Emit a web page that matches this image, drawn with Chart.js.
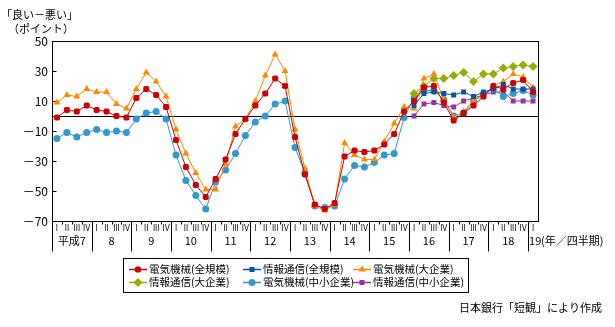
<!DOCTYPE html>
<html>
<head>
<meta charset="utf-8">
<script src="https://cdn.jsdelivr.net/npm/chart.js@4/dist/chart.umd.min.js"></script>
<style>
  html, body { margin: 0; padding: 0; background: #fff; }
  canvas { display: block; }
</style>
</head>
<body>
<canvas id="tankan" width="615" height="327"></canvas>
<script>
// 業況判断DI（電気機械・情報通信） 平成7年I期〜19年I期

// x軸: 年と四半期
const years = ['平成7', '8', '9', '10', '11', '12', '13', '14', '15', '16', '17', '18', '19'];
const quartersPerYear = [4, 4, 4, 4, 4, 4, 4, 4, 4, 4, 4, 4, 1];
const quarterNames = ['I', 'II', 'III', 'IV'];

// y軸目盛
const yTicks = [50, 30, 10, -10, -30, -50, -70];

// 電気機械（平成7年I期〜）
const denkiAll = [-1, 4, 3, 7, 4, 3, 0, -1, 12, 18, 14, 6, -16, -34, -46, -54, -42, -29, -12, -2,
  7, 15, 25, 20, -14, -39, -59, -62, -58, -27, -23, -24, -23, -19, -12, 3, 10, 19, 20, 9,
  -3, 2, 7, 13, 20, 18, 22, 24, 16];
const denkiLarge = [9, 14, 13, 18, 16, 16, 8, 5, 18, 29, 23, 13, -9, -25, -38, -49, -49, -32, -7, -2,
  10, 27, 41, 30, -9, -35, -60, -63, -59, -18, -26, -29, -29, -17, -5, 6, 5, 25, 28, 11,
  -1, 3, 10, 14, 20, 23, 28, 26, 19];
const denkiSmall = [-15, -11, -14, -11, -9, -11, -10, -11, -2, 2, 3, -2, -26, -43, -53, -62, -44, -36, -25, -13,
  -4, 0, 8, 10, -21, -38, -60, -61, -60, -42, -33, -34, -31, -26, -25, -1, 12, 17, 17, 11,
  0, 2, 10, 15, 18, 13, 15, 17, 14];

// 情報通信（平成16年I期〜）
const tsushinAll = [7, 15, 16, 15, 14, 16, 13, 16, 18, 21, 18, 18, 18];
const tsushinLarge = [15, 20, 25, 25, 27, 29, 23, 28, 28, 32, 33, 34, 33];
const tsushinSmall = [0, 8, 9, 7, 6, 10, 12, 14, 16, 16, 10, 10, 10];

// カテゴリ（年・四半期）を組み立てる
const labels = [];
const yearOf = [];
const quarterOf = [];
years.forEach((y, yi) => {
  for (let q = 0; q < quartersPerYear[yi]; q++) {
    labels.push(y + ' ' + quarterNames[q]);
    yearOf.push(yi);
    quarterOf.push(q);
  }
});

// 情報通信は途中から
function padFront(arr) {
  return new Array(labels.length - arr.length).fill(null).concat(arr);
}

const JP = '"Noto Sans CJK JP", sans-serif';
Chart.defaults.font.family = JP;
Chart.defaults.color = '#000';

function series(label, data, color, style, radius) {
  return {
    label: label,
    data: data,
    borderColor: color,
    backgroundColor: color,
    borderWidth: 1,
    pointStyle: style,
    pointRadius: radius,
    pointBorderWidth: 0,
    pointHoverRadius: radius,
    tension: 0,
    spanGaps: false
  };
}

function line(ctx, x1, y1, x2, y2) {
  ctx.beginPath();
  ctx.moveTo(x1, y1);
  ctx.lineTo(x2, y2);
  ctx.stroke();
}

// 枠・0線・目盛
const framePlugin = {
  id: 'framePlugin',
  beforeDatasetsDraw(chart) {
    const { ctx, chartArea: a, scales: { y } } = chart;
    ctx.save();
    ctx.strokeStyle = '#000';
    ctx.lineWidth = 1;
    const l = Math.round(a.left) + 0.5, r = Math.round(a.right) + 0.5;
    const t = Math.round(a.top) + 0.5, b = Math.round(a.bottom) + 0.5;
    ctx.strokeRect(l, t, r - l, b - t);
    const y0 = Math.round(y.getPixelForValue(0)) + 0.5;
    line(ctx, l, y0, r, y0);
    yTicks.forEach(v => {
      const py = Math.round(y.getPixelForValue(v)) + 0.5;
      line(ctx, l, py, l + 4, py);
    });
    ctx.restore();
  },
  afterDraw(chart) {
    const { ctx, chartArea: a, scales: { x } } = chart;
    ctx.save();
    ctx.strokeStyle = '#000';
    ctx.fillStyle = '#000';
    ctx.lineWidth = 1;
    const b = Math.round(a.bottom) + 0.5;
    const step = x.getPixelForValue(1) - x.getPixelForValue(0);

    // 左端の線
    line(ctx, Math.round(a.left) + 0.5, b, Math.round(a.left) + 0.5, b + 30);

    // 四半期の区切りと年の区切り
    labels.forEach((lab, i) => {
      if (i === 0) return;
      const bx = Math.round(x.getPixelForValue(i) - step / 2) + 0.5;
      if (quarterOf[i] === 0) line(ctx, bx, b, bx, b + 30);
      else line(ctx, bx, b, bx, b + 3);
    });

    // 四半期ラベル
    ctx.font = '9px "DejaVu Sans"';
    ctx.textAlign = 'center';
    ctx.textBaseline = 'middle';
    labels.forEach((lab, i) => {
      const cx = x.getPixelForValue(i);
      ctx.save();
      ctx.translate(cx, b + 7);
      ctx.scale(0.82, 1);
      ctx.fillText(quarterNames[quarterOf[i]], 0, 0);
      ctx.restore();
    });

    // 年ラベル
    ctx.font = '11px ' + JP;
    years.forEach((yr, yi) => {
      const first = yearOf.indexOf(yi);
      const last = yearOf.lastIndexOf(yi);
      const x1 = x.getPixelForValue(first) - step / 2;
      const x2 = x.getPixelForValue(last) + step / 2;
      const w = ctx.measureText(yr).width;
      if (w > x2 - x1 - 2) {
        ctx.textAlign = 'left';
        ctx.fillText(yr, x1 + 1, b + 19);
      } else {
        ctx.textAlign = 'center';
        ctx.fillText(yr, (x1 + x2) / 2, b + 19);
      }
    });
    ctx.textAlign = 'left';
    ctx.fillText('(年／四半期)', a.right + 3, b + 19);

    // 縦軸の見出し
    ctx.font = '11px ' + JP;
    ctx.fillText('「良い－悪い」', 1, 15);
    ctx.fillText('（ポイント）', 8, 29);

    // 凡例
    const boxL = 123.5, boxT = 258.5, boxR = 468.5, boxB = 292.5;
    ctx.strokeRect(boxL, boxT, boxR - boxL, boxB - boxT);
    const colX = [129, 243, 353];
    const rowY = [269, 282];
    chart.data.datasets.forEach((ds, i) => {
      const lx = colX[i % 3];
      const ly = rowY[Math.floor(i / 3)];
      ctx.strokeStyle = ds.borderColor;
      ctx.lineWidth = 1.5;
      line(ctx, lx, ly + 0.5, lx + 18, ly + 0.5);
      ctx.fillStyle = ds.backgroundColor;
      Chart.helpers.drawPoint(ctx, { pointStyle: ds.pointStyle, radius: ds.pointRadius, rotation: 0, borderWidth: 0 }, lx + 9, ly + 0.5);
      ctx.fillStyle = '#000';
      ctx.font = '10.5px ' + JP;
      ctx.textAlign = 'left';
      ctx.fillText(ds.label, lx + 20, ly + 0.5);
    });

    // 出所
    ctx.textAlign = 'right';
    ctx.font = '11px ' + JP;
    ctx.fillText('日本銀行「短観」により作成', 602, 308);
    ctx.restore();
  }
};

new Chart(document.getElementById('tankan'), {
  type: 'line',
  data: {
    labels: labels,
    datasets: [
      series('電気機械(全規模)', denkiAll, '#CC0000', 'rectRounded', 3.5),
      series('情報通信(全規模)', padFront(tsushinAll), '#0A52A0', 'rect', 3.5),
      series('電気機械(大企業)', denkiLarge, '#FF8800', 'triangle', 4),
      series('情報通信(大企業)', padFront(tsushinLarge), '#99AA00', 'rectRot', 4.5),
      series('電気機械(中小企業)', denkiSmall, '#3399CC', 'circle', 3.5),
      series('情報通信(中小企業)', padFront(tsushinSmall), '#993399', 'rect', 3.5)
    ]
  },
  options: {
    responsive: false,
    animation: false,
    devicePixelRatio: 1,
    layout: { padding: { left: 0, top: 41, right: 77, bottom: 0 } },
    plugins: {
      legend: { display: false },
      tooltip: { enabled: false }
    },
    scales: {
      x: {
        type: 'category',
        offset: true,
        grid: { display: false },
        border: { display: false },
        ticks: { display: false },
        afterFit(scale) { scale.height = 106; }
      },
      y: {
        min: -70,
        max: 50,
        grid: { display: false, drawTicks: false },
        border: { display: false },
        ticks: {
          stepSize: 20,
          padding: 4,
          font: { size: 12, family: JP },
          callback: v => (v < 0 ? '－' + Math.abs(v) : String(v))
        },
        afterFit(scale) { scale.width = 52; }
      }
    }
  },
  plugins: [framePlugin]
});
</script>
</body>
</html>
